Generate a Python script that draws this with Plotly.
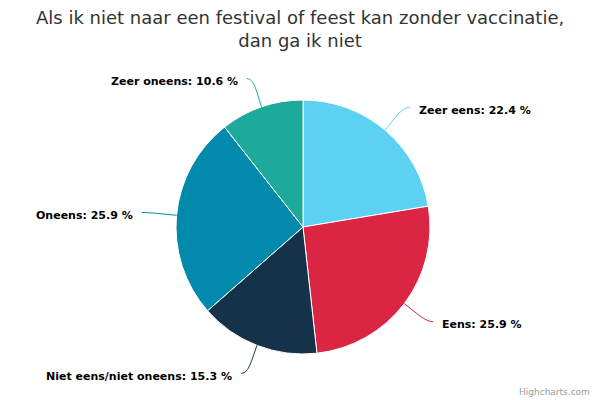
import math
import plotly.graph_objects as go

labels = ["Zeer eens", "Eens", "Niet eens/niet oneens", "Oneens", "Zeer oneens"]
values = [22.4, 25.9, 15.3, 25.9, 10.6]
colors = ["#5CD1F2", "#DA2543", "#143249", "#028AAD", "#1EAA9B"]
title_text = "Als ik niet naar een festival of feest kan zonder vaccinatie,<br>dan ga ik niet"

W, H = 600, 400
cx, cy, r = 303, 227, 127
dist = 30

dom_x = [(cx - r) / W, (cx + r) / W]
dom_y = [1 - (cy + r) / H, 1 - (cy - r) / H]

fig = go.Figure(go.Pie(
    labels=labels, values=values, sort=False, direction="clockwise", rotation=0,
    marker=dict(colors=colors, line=dict(color="white", width=1)),
    textinfo="none", hoverinfo="label+percent", showlegend=False,
    domain=dict(x=dom_x, y=dom_y),
))

def px(x):
    return x / W

def py(y):
    return 1 - y / H

total = sum(values)
annotations = []
shapes = []
acc = 0.0
for lab, v, col in zip(labels, values, colors):
    mid = (acc + v / 2) / total * 2 * math.pi
    acc += v
    s, c = math.sin(mid), math.cos(mid)
    ex, ey = cx + r * s, cy - r * c
    ax, ay = cx + (r + dist) * s, cy - (r + dist) * c
    side = 1 if s >= 0 else -1
    endx = ax + side * 5
    c1x, c1y = ex + (ax - ex) * 0.5, ey + (ay - ey) * 0.5
    c2x, c2y = ax - side * 3, ay
    path = (f"M {px(ex)},{py(ey)} C {px(c1x)},{py(c1y)} {px(c2x)},{py(c2y)} {px(endx)},{py(ay)}")
    shapes.append(dict(type="path", xref="paper", yref="paper", path=path,
                       line=dict(color=col, width=1)))
    annotations.append(dict(
        x=px(ax + side * 12), y=py(ay + 3), xref="paper", yref="paper",
        text=f"<b>{lab}: {v} %</b>", showarrow=False,
        xanchor="left" if side > 0 else "right", yanchor="middle",
        font=dict(family="DejaVu Sans", size=11, color="#000000"),
    ))

annotations.append(dict(
    x=px(592), y=py(392), xref="paper", yref="paper", text="Highcharts.com",
    showarrow=False, xanchor="right", yanchor="middle",
    font=dict(family="DejaVu Sans", size=9, color="#999999"),
))

annotations.append(dict(
    x=0.5, y=py(5), xref="paper", yref="paper", text=title_text,
    showarrow=False, xanchor="center", yanchor="top", align="center",
    font=dict(family="DejaVu Sans", size=18, color="#333333"),
))

fig.update_layout(
    width=W, height=H,
    margin=dict(l=0, r=0, t=0, b=0),
    paper_bgcolor="white", plot_bgcolor="white",
    annotations=annotations, shapes=shapes,
)

fig.write_html("out.html", config={"displayModeBar": False})

with open("out.html", encoding="utf-8") as f:
    html = f.read()
html = html.replace("<head>", "<head><style>html,body{margin:0;padding:0;overflow:hidden;}</style>", 1)
with open("out.html", "w", encoding="utf-8") as f:
    f.write(html)
